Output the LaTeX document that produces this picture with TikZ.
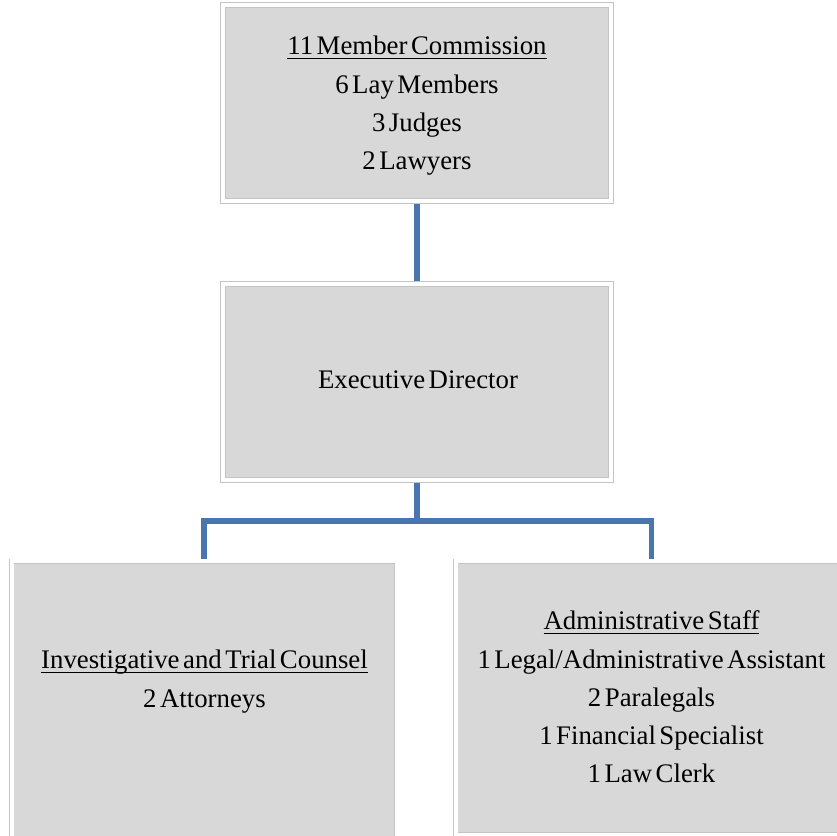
\documentclass[tikz,border=0pt]{standalone}
\usepackage{fontspec}
\setmainfont{Liberation Serif}
\usetikzlibrary{backgrounds}
\definecolor{boxfill}{HTML}{D8D8D8}
\definecolor{boxline}{HTML}{C4C4C4}
\definecolor{conn}{HTML}{4A76B0}
\newsavebox\ulbox
\newcommand\myul[1]{\sbox\ulbox{#1}\rlap{\rule[-4pt]{\wd\ulbox}{1.1pt}}\usebox\ulbox}
\newcommand\boxtext[1]{{\fontsize{26.8}{38.2}\selectfont\spaceskip=3.5pt plus 1pt\relax\begin{tabular}[t]{@{}c@{}}#1\end{tabular}}}
\tikzset{
  box/.style={rectangle, fill=boxfill, draw=boxline, double=white, double distance=4pt, line width=0.6pt, inner sep=0pt, outer sep=0pt},
  txt/.style={anchor=base, inner sep=0pt, text=black},
  connector/.style={draw=conn, line width=5.5pt}
}
\begin{document}
\begin{tikzpicture}[x=1pt,y=1pt]
\useasboundingbox (0,0) rectangle (837,835);
\clip (0,0) rectangle (837,835);
\node[box, minimum width=388pt, minimum height=196pt] (top) at (417,732) {};
\node[box, minimum width=388pt, minimum height=196pt] (mid) at (417,453) {};
\node[box, minimum width=385pt, minimum height=300pt] (bl) at (204,123.5) {};
\node[box, minimum width=392pt, minimum height=273pt] (br) at (651.5,137) {};
\coordinate (bus) at (417,314);
\begin{scope}[on background layer]
\draw[connector] (top.south) -- (mid.north);
\draw[connector] (mid.south) -- (bus);
\draw[connector] (bl.north) |- (bus) -| (br.north);
\end{scope}
\node[txt] (toptext) at (417,780) {\boxtext{\myul{11 Member Commission}\\6 Lay Members\\3 Judges\\2 Lawyers}};
\node[txt] (midtext) at (418,446) {\boxtext{Executive Director}};
\node[txt] (bltext) at (204.5,166) {\boxtext{\myul{Investigative and Trial Counsel}\\2 Attorneys}};
\node[txt] (brtext) at (651.5,205) {\boxtext{\myul{Administrative Staff}\\1 Legal/Administrative Assistant\\2 Paralegals\\1 Financial Specialist\\1 Law Clerk}};
\end{tikzpicture}
\end{document}
